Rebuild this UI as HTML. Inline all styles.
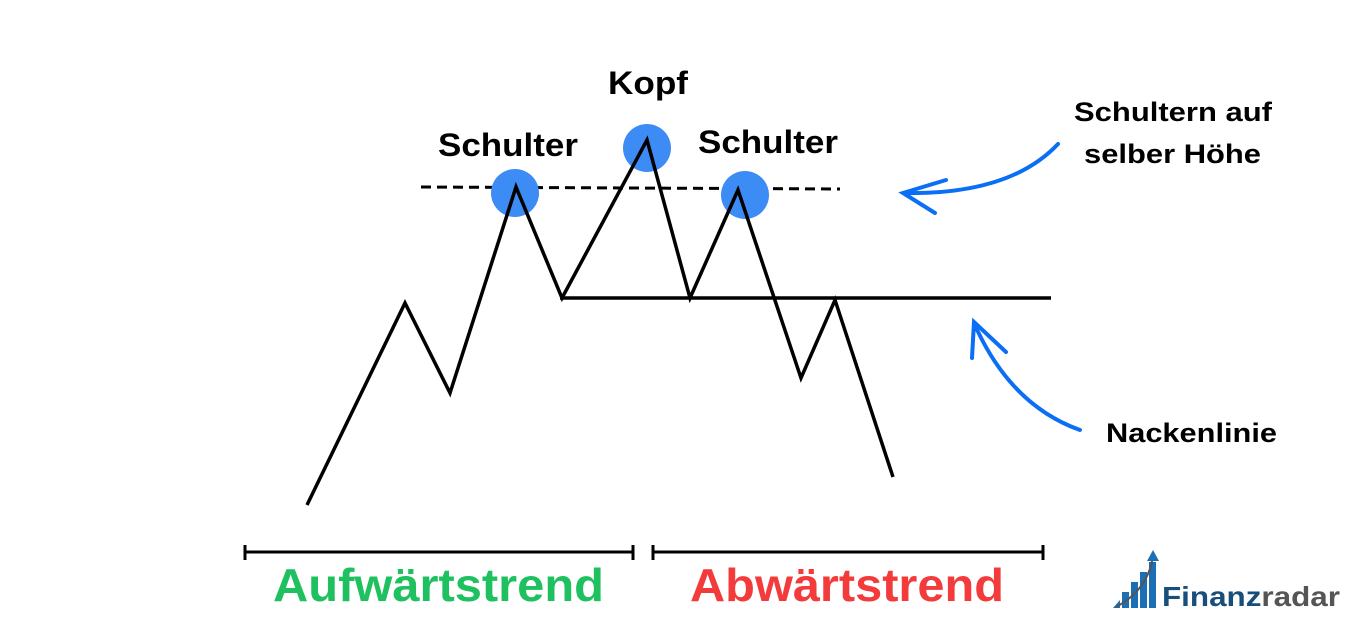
<!DOCTYPE html>
<html><head><meta charset="utf-8"><style>
html,body{margin:0;padding:0;background:#fff;}
svg{display:block;}
text{font-family:"Liberation Sans",sans-serif;font-weight:bold;}
</style></head><body>
<svg width="1356" height="626" viewBox="0 0 1356 626" xmlns="http://www.w3.org/2000/svg">
<line x1="421" y1="187" x2="840" y2="189" stroke="#000" stroke-width="3" stroke-dasharray="10,6"/>
<circle cx="515" cy="193" r="24" fill="#3d8bf5"/>
<circle cx="647" cy="148" r="24" fill="#3d8bf5"/>
<circle cx="745" cy="195" r="24" fill="#3d8bf5"/>
<polyline points="307,505 405,303 450,393 516,187 562,298 647,140 690,298 738,190 801,378 835,300 893,477" fill="none" stroke="#000" stroke-width="3.5" stroke-linejoin="miter"/>
<line x1="560" y1="298" x2="1051" y2="298" stroke="#000" stroke-width="3.5"/>
<g stroke="#0a6ff5" stroke-width="4" fill="none" stroke-linecap="round">
<path d="M1058,144 Q1010,195 904,193"/>
<path d="M946,180 L903,193 L935,213"/>
<path d="M1080,430 Q1010,405 974,323"/>
<path d="M972,358 L974,322 L1006,352"/>
</g>
<g stroke="#000" stroke-width="3">
<line x1="245" y1="552" x2="633" y2="552"/><line x1="245" y1="545" x2="245" y2="560"/><line x1="633" y1="545" x2="633" y2="560"/>
<line x1="653" y1="552" x2="1043" y2="552"/><line x1="653" y1="545" x2="653" y2="560"/><line x1="1043" y1="545" x2="1043" y2="560"/>
</g>
<text x="438" y="156" font-size="32" textLength="140" lengthAdjust="spacingAndGlyphs">Schulter</text>
<text x="608" y="94" font-size="32" textLength="80" lengthAdjust="spacingAndGlyphs">Kopf</text>
<text x="698" y="153" font-size="32" textLength="140" lengthAdjust="spacingAndGlyphs">Schulter</text>
<text x="1074" y="121" font-size="27" textLength="198" lengthAdjust="spacingAndGlyphs">Schultern auf</text>
<text x="1084" y="163" font-size="27" textLength="177" lengthAdjust="spacingAndGlyphs">selber Höhe</text>
<text x="1106" y="442" font-size="27" textLength="171" lengthAdjust="spacingAndGlyphs">Nackenlinie</text>
<text x="273" y="601" font-size="46" fill="#1fc05f" textLength="331" lengthAdjust="spacingAndGlyphs">Aufwärtstrend</text>
<text x="690" y="601" font-size="46" fill="#f43b3b" textLength="314" lengthAdjust="spacingAndGlyphs">Abwärtstrend</text>
<g>
<polygon points="1113,608 1120,600 1120,608" fill="#1a6fb5"/>
<rect x="1122" y="592" width="7" height="16" fill="#1a6fb5"/>
<rect x="1131" y="582" width="7" height="26" fill="#1a6fb5"/>
<rect x="1140" y="572" width="7" height="36" fill="#1a6fb5"/>
<rect x="1149" y="562" width="7" height="46" fill="#1a6fb5"/>
<path d="M1116,607 Q1148,590 1153,556" stroke="#555" stroke-width="2" fill="none"/>
<polygon points="1153,550 1147,561 1159,561" fill="#1a6fb5"/>
<text x="1162" y="606" font-size="28" fill="#174e7a" textLength="178" lengthAdjust="spacingAndGlyphs">Finanz<tspan fill="#555">radar</tspan></text>
</g>
</svg>
</body></html>
